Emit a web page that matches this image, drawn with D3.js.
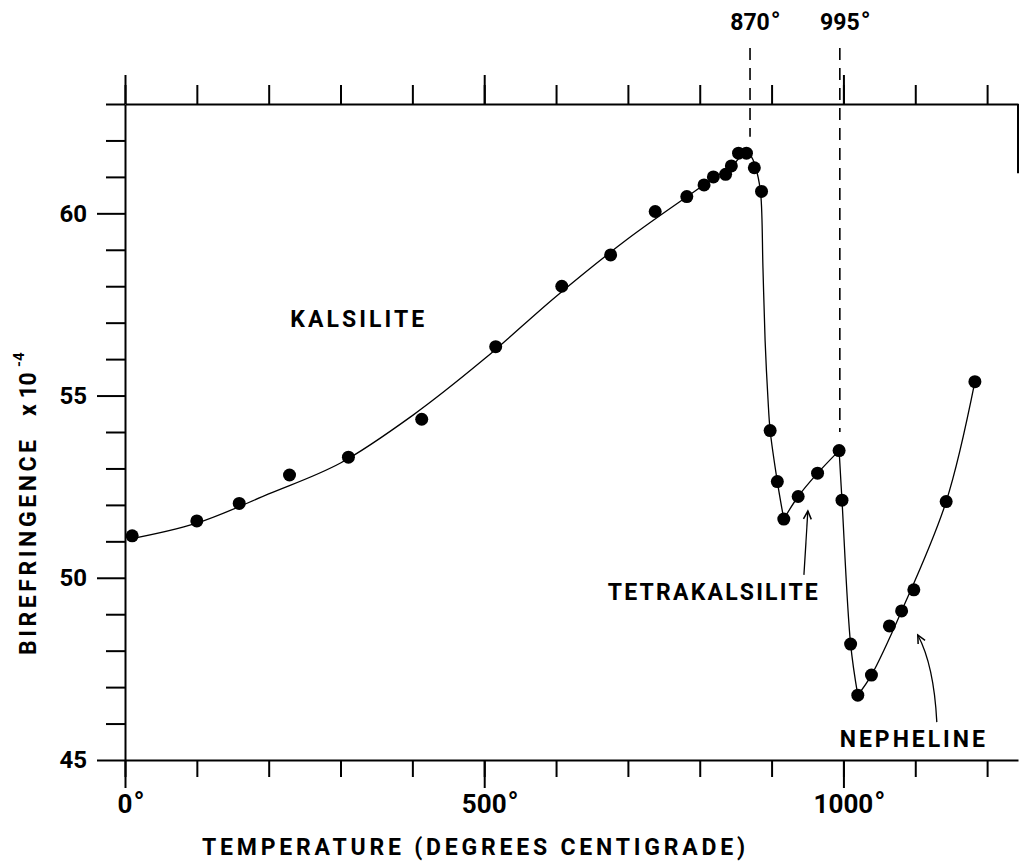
<!DOCTYPE html>
<html>
<head>
<meta charset="utf-8">
<script src="https://d3js.org/d3.v7.min.js"></script>
<style>
body{margin:0;background:#fff;}
svg text{font-family:Roboto,"DejaVu Sans",sans-serif;font-weight:bold;fill:#000;}
.axis path,.axis line{stroke:#000;stroke-width:2;}
</style>
</head>
<body>
<script>
//measured points (temperature in degrees C, birefringence x 10^-4)
var temps = [10,100,159,229,311,413,516,608,676,738,782,806,819,836,844,854,865,876,886,
  898,908,917,937,964,994,998,1010,1020,1039,1064,1081,1098,1143,1183];
var biref = [51.15,51.56,52.04,52.82,53.31,54.35,56.34,58.0,58.86,60.05,60.46,60.78,61.0,61.07,61.3,61.65,61.65,61.25,60.6,
  54.04,52.64,51.61,52.23,52.87,53.49,52.13,48.18,46.78,47.33,48.68,49.09,49.67,52.09,55.38];

//hand drawn curve in pieces
var kalsiliteCurve = [[3,51.05],[100,51.5],[200,52.3],[300,53.15],[400,54.45],[500,56.0],[600,57.72],
  [700,59.3],[800,60.7],[850,61.4],[862,61.72],[872,61.55],[880,61.1],[885,60.5],[888,58.5],
  [891,56.5],[895,54.9],[898,54.04],[908,52.64],[917,51.61]];
var tetraCurve = [[917,51.61],[937,52.23],[964,52.87],[994,53.49]];
var dropCurve = [[994,53.49],[998,52.13],[1010,48.18],[1020,46.78]];
var nephelineCurve = [[1020,46.78],[1039,47.33],[1081,49.09],[1143,52.09],[1183,55.38]];

//axis ticks
var xTicks = [0,100,200,300,400,500,600,700,800,900,1000,1100,1200];
var xMajor = [0,500,1000];
var yTicks = [46,47,48,49,51,52,53,54,56,57,58,59,61,62,63];
var yMajor = [45,50,55,60];

//transition temperatures
var transitions = [870,995];
var transitionEnds = [62.1,54.0];

var width = 1025, height = 861;

var x = d3.scaleLinear().domain([0,1243]).range([125,1018]);
var y = d3.scaleLinear().domain([45,63]).range([760,104]);

var svg = d3.select("body")
.append("svg")
.attr("width", width)
.attr("height", height);

//left axis, minor then major with labels
svg.append("g")
.attr("class","axis")
.attr("transform","translate(125,0)")
.call(d3.axisLeft(y).tickValues(yTicks).tickSize(19).tickFormat(""))
.select(".domain").remove();

var yAx = svg.append("g")
.attr("class","axis")
.attr("transform","translate(125,0)")
.call(d3.axisLeft(y).tickValues(yMajor).tickSize(28).tickSizeOuter(0).tickPadding(10).tickFormat(d3.format("d")));
yAx.selectAll("text")
.style("font-size","24px")
.style("font-family","Roboto,sans-serif");

//bottom axis
svg.append("g")
.attr("class","axis")
.attr("transform","translate(0,760)")
.call(d3.axisBottom(x).tickValues(xTicks).tickSize(17).tickSizeOuter(0).tickFormat(""));
svg.append("g")
.attr("class","axis")
.attr("transform","translate(0,760)")
.call(d3.axisBottom(x).tickValues(xMajor).tickSize(28).tickFormat(""))
.select(".domain").remove();

//top axis
svg.append("g")
.attr("class","axis")
.attr("transform","translate(0,104)")
.call(d3.axisTop(x).tickValues(xTicks).tickSize(19).tickSizeOuter(0).tickFormat(""));
svg.append("g")
.attr("class","axis")
.attr("transform","translate(0,104)")
.call(d3.axisTop(x).tickValues(xMajor).tickSize(29).tickFormat(""))
.select(".domain").remove();

//little drop on the right end of the top axis
svg.append("line")
.attr("x1",x(1243)).attr("x2",x(1243))
.attr("y1",y(63)).attr("y2",y(61.1))
.attr("stroke","#000").attr("stroke-width",2);

//degree labels, digits centred on the tick and the degree sign after them
function degreeLabel(g, value, px, py, size){
  var t = g.append("text")
  .attr("x",px).attr("y",py)
  .attr("text-anchor","middle")
  .style("font-size",size+"px")
  .text(value);
  var w = t.node().getComputedTextLength();
  g.append("text")
  .attr("x",px+w/2+1).attr("y",py)
  .style("font-size",(size*1.1)+"px")
  .text("\u00b0");
}
var xl = svg.append("g");
xMajor.forEach(function(d){ degreeLabel(xl, d, x(d), 813, 26); });

//dashed transition lines and their labels
transitions.forEach(function(d,i){
  svg.append("line")
  .attr("x1",x(d)).attr("x2",x(d))
  .attr("y1",48).attr("y2",y(transitionEnds[i]))
  .attr("stroke","#000").attr("stroke-width",1.6)
  .attr("stroke-dasharray","12,8");
  degreeLabel(xl, d, x(d), 30, 23);
});

//curves
var line = d3.line()
.x(function(d){ return x(d[0]); })
.y(function(d){ return y(d[1]); })
.curve(d3.curveCatmullRom.alpha(0.5));

[kalsiliteCurve, tetraCurve, dropCurve, nephelineCurve].forEach(function(c){
  svg.append("path")
  .datum(c)
  .attr("d",line)
  .attr("fill","none")
  .attr("stroke","#000")
  .attr("stroke-width",1.3);
});

//points
svg.append("g")
.selectAll("circle")
.data(temps)
.enter().append("circle")
.attr("cx",function(d){ return x(d); })
.attr("cy",function(d,i){ return y(biref[i]); })
.attr("r",6.5)
.attr("fill","#000");

//phase labels
svg.append("text")
.attr("x",x(230)).attr("y",y(56.88))
.attr("textLength",134).attr("lengthAdjust","spacing")
.style("font-size","23px")
.text("KALSILITE");

svg.append("text")
.attr("x",x(672)).attr("y",y(49.39))
.attr("textLength",210).attr("lengthAdjust","spacing")
.style("font-size","23px")
.text("TETRAKALSILITE");

svg.append("text")
.attr("x",x(995)).attr("y",y(45.36))
.attr("textLength",145).attr("lengthAdjust","spacing")
.style("font-size","23px")
.text("NEPHELINE");

//arrows pointing at the curve
var arrows = [
  {tail:[945,50.08], ctrl:[948,51.0], tip:[950.5,51.83]},
  {tail:[1130,46.04], ctrl:[1126,47.6], tip:[1103.5,48.43]}
];
arrows.forEach(function(a){
  var t = [x(a.tail[0]),y(a.tail[1])], c = [x(a.ctrl[0]),y(a.ctrl[1])], p = [x(a.tip[0]),y(a.tip[1])];
  svg.append("path")
  .attr("d","M"+t+"Q"+c+" "+p)
  .attr("fill","none").attr("stroke","#000").attr("stroke-width",1.3);
  var ang = Math.atan2(p[1]-c[1],p[0]-c[0]);
  var h = 9, s = 0.45;
  svg.append("path")
  .attr("d","M"+(p[0]-h*Math.cos(ang-s))+","+(p[1]-h*Math.sin(ang-s))+"L"+p+"L"+(p[0]-h*Math.cos(ang+s))+","+(p[1]-h*Math.sin(ang+s)))
  .attr("fill","none").attr("stroke","#000").attr("stroke-width",1.5);
});

//axis titles
svg.append("text")
.attr("x",202).attr("y",855)
.attr("textLength",543).attr("lengthAdjust","spacing")
.style("font-size","23px")
.text("TEMPERATURE  (DEGREES CENTIGRADE)");

var yt = svg.append("g")
.attr("transform","translate(36,655) rotate(-90)");
yt.append("text")
.attr("x",0).attr("y",0)
.attr("textLength",215).attr("lengthAdjust","spacing")
.style("font-size","23px")
.text("BIREFRINGENCE");
yt.append("text")
.attr("x",239).attr("y",0)
.style("font-size","23px")
.text("x 10");
yt.append("text")
.attr("x",288).attr("y",-12)
.style("font-size","15px")
.text("-4");
</script>
</body>
</html>
